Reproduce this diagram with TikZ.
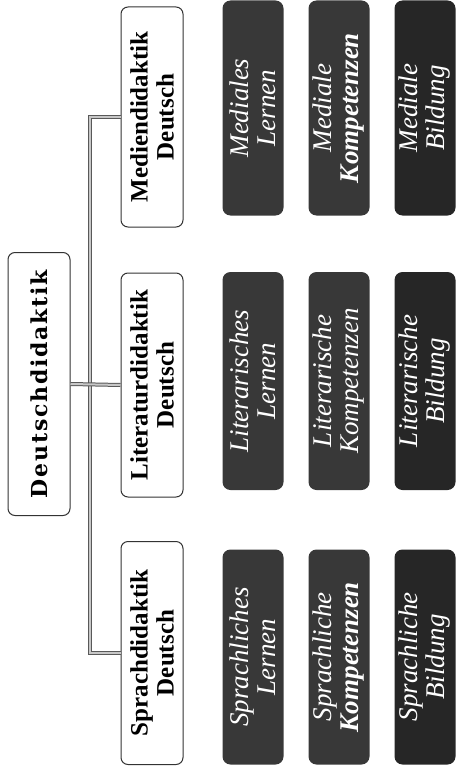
\documentclass[tikz,border=0pt]{standalone}
\usepackage{fontspec}
\setmainfont{Liberation Serif}
\newfontfamily\rootfont[LetterSpace=8]{DejaVu Serif}
\tikzset{
  whitebox/.style={draw=black!80, line width=1pt, rounded corners=7pt, fill=white, rotate=90,
    minimum height=62pt, inner sep=0pt, align=center, font=\fontsize{25}{26}\selectfont\bfseries},
  darkbox/.style={fill=black!78, rounded corners=8pt, rotate=90, minimum height=61pt,
    minimum width=215pt, inner sep=0pt, align=center, text=white, font=\fontsize{27}{27}\selectfont\itshape},
  trunk/.style={draw=black!65, double=black!22, double distance=2pt, line width=1pt}
}
\begin{document}
\begin{tikzpicture}[x=1pt,y=-1pt]
% Deutschdidaktik tree, turned by 90 degrees
	\useasboundingbox (0,0) rectangle (455,773);
	\newcommand\colA{253} %first column of dark boxes
	\newcommand\colB{339} %second column of dark boxes
	\newcommand\colC{425} %third column of dark boxes
	%Root
	\node[whitebox, minimum width=263pt, font=\fontsize{22}{24}\selectfont\bfseries\rootfont] (root) at (39,384) {Deutschdidaktik};
	%Branches
	\node[whitebox, minimum width=220pt] (med) at (152,117) {Mediendidaktik\\Deutsch};
	\node[whitebox, minimum width=224pt] (lit) at (152,385) {Literaturdidaktik\\Deutsch};
	\node[whitebox, minimum width=223pt] (spr) at (152,653) {Sprachdidaktik\\Deutsch};
	%Connectors
	\coordinate (J) at (90,385); % J is the joint on the trunk
	\draw[trunk] (med.north) -| (J) |- (spr.north);
	\draw[trunk] (root.south) -- (lit.north);
	%Mediendidaktik row
	\node[darkbox] (medL) at (\colA,108) {Mediales\\Lernen};
	\node[darkbox] (medK) at (\colB,108) {Mediale\\\textbf{Kompetenzen}};
	\node[darkbox, fill=black!85] (medB) at (\colC,108) {Mediale\\Bildung};
	%Literaturdidaktik row
	\node[darkbox, minimum width=218pt] (litL) at (\colA,381) {Literarisches\\Lernen};
	\node[darkbox, minimum width=218pt] (litK) at (\colB,381) {Literarische\\Kompetenzen};
	\node[darkbox, minimum width=218pt, fill=black!85] (litB) at (\colC,381) {Literarische\\Bildung};
	%Sprachdidaktik row
	\node[darkbox] (sprL) at (\colA,657) {Sprachliches\\Lernen};
	\node[darkbox] (sprK) at (\colB,657) {Sprachliche\\\textbf{Kompetenzen}};
	\node[darkbox, fill=black!85] (sprB) at (\colC,657) {Sprachliche\\Bildung};
\end{tikzpicture}
\end{document}
